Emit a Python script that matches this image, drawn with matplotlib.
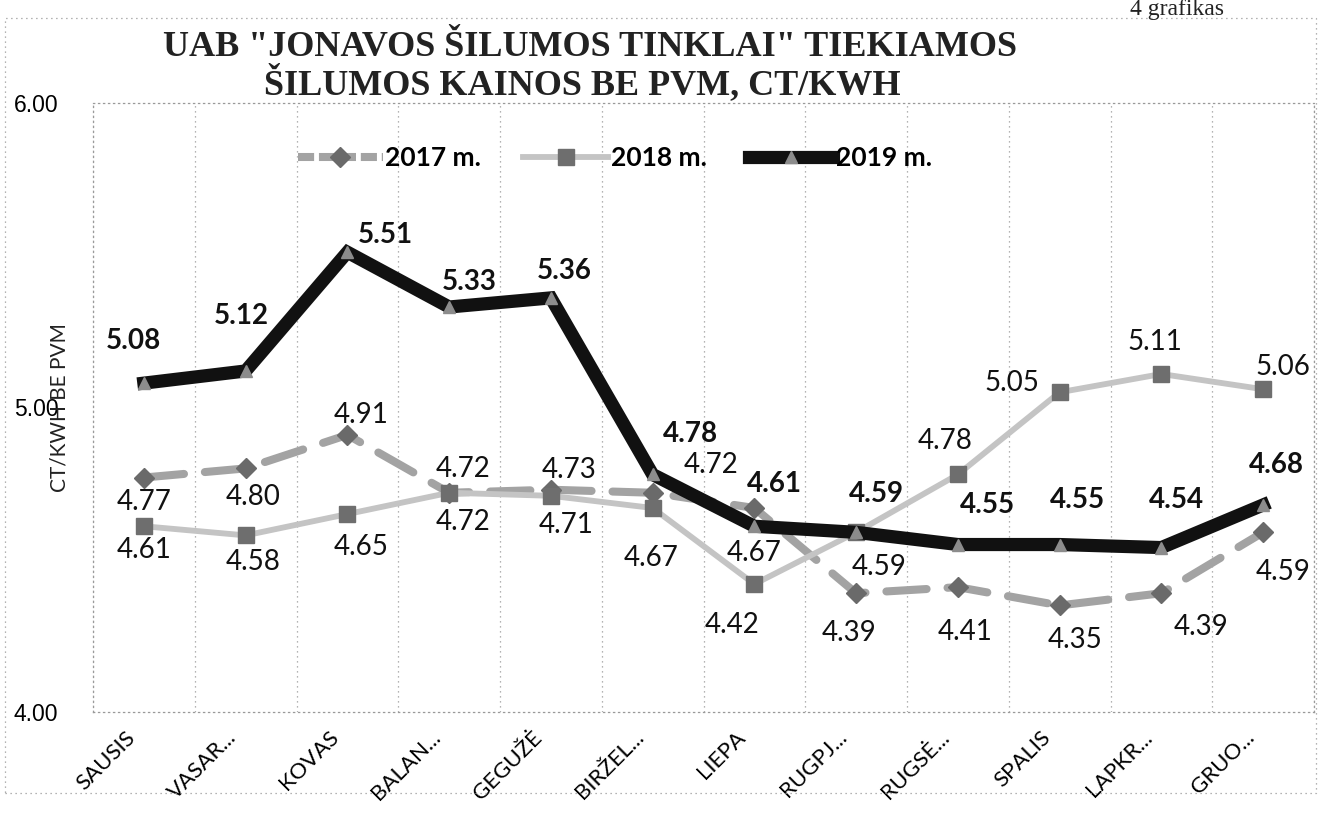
import matplotlib
matplotlib.use("Agg")
import matplotlib.pyplot as plt
import matplotlib.transforms as mtransforms
from matplotlib.patches import Rectangle
from matplotlib.lines import Line2D
import numpy as np

# ---- data -------------------------------------------------------------
months = ["SAUSIS", "VASAR...", "KOVAS", "BALAN...", "GEGUŽĖ", "BIRŽEL...",
          "LIEPA", "RUGPJ...", "RUGSĖ...", "SPALIS", "LAPKR...", "GRUO..."]
y2017 = [4.77, 4.80, 4.91, 4.72, 4.73, 4.72, 4.67, 4.39, 4.41, 4.35, 4.39, 4.59]
y2018 = [4.61, 4.58, 4.65, 4.72, 4.71, 4.67, 4.42, 4.59, 4.78, 5.05, 5.11, 5.06]
y2019 = [5.08, 5.12, 5.51, 5.33, 5.36, 4.78, 4.61, 4.59, 4.55, 4.55, 4.54, 4.68]
yticks = [4.0, 5.0, 6.0]

# label offsets in pixels (dx right, dy down) – placement as in the source
off2017 = [(0, 24), (8, 29), (14, -20), (14, -24), (18, -20), (58, -28),
           (0, 45), (-7, 40), (7, 45), (15, 35), (40, 34), (20, 40)]
off2018 = [(0, 24), (8, 27), (14, 33), (14, 29), (15, 29), (-2, 50),
           (-22, 41), (23, 35), (-13, -33), (-48, -9), (-6, -32), (20, -22)]
off2019 = [(-10, -42), (-4, -55), (38, -17), (20, -25), (13, -27), (38, -40),
           (20, -42), (20, -38), (30, -40), (18, -45), (15, -48), (13, -40)]

DPI = 100
fig = plt.figure(figsize=(13.21, 8.26), dpi=DPI)
W, H = 1321, 826
ax = fig.add_axes([93 / W, 1 - 712 / H, (1314 - 93) / W, (712 - 103) / H])

x = np.arange(len(months))
px2pt = 72 / DPI

ax.plot(x, y2017, color="#a3a3a3", lw=5.8, dashes=(5, 2.6), dash_capstyle="round",
        marker="D", ms=10, mfc="#6a6a6a", mec="#6a6a6a", zorder=3, label="2017 m.")
ax.plot(x, y2018, color="#c4c4c4", lw=4.2, solid_capstyle="round",
        marker="s", ms=12, mfc="#6e6e6e", mec="#6e6e6e", zorder=4, label="2018 m.")
ax.plot(x, y2019, color="#111111", lw=9.5, solid_joinstyle="miter",
        marker="^", ms=9, mfc="#8c8c8c", mec="#8c8c8c", zorder=5, label="2019 m.")

lab_font = "Lato"
for vals, offs, weight in ((y2017, off2017, "normal"), (y2018, off2018, "normal"),
                           (y2019, off2019, "bold")):
    for i, (v, (dx, dy)) in enumerate(zip(vals, offs)):
        ax.annotate(f"{v:.2f}", (x[i], v), xytext=(dx * px2pt, -dy * px2pt),
                    textcoords="offset points", ha="center", va="center",
                    fontsize=20, fontweight=weight, family=lab_font,
                    color="#111111", zorder=6)

ax.set_xlim(-0.5, len(months) - 0.5)
ax.set_ylim(4.0, 6.0)
ax.set_yticks(yticks)
ax.set_yticklabels([f"{t:.2f}" for t in yticks], fontsize=16.5, family="Liberation Sans")
ax.tick_params(axis="y", length=0, pad=25)
ax.set_xticks(x)
ax.set_xticklabels(months, rotation=45, ha="right", va="center", rotation_mode="anchor",
                   fontsize=16, family="Lato")
ax.tick_params(axis="x", length=0, pad=16)
shift = mtransforms.ScaledTranslation(-12 / DPI, 0, fig.dpi_scale_trans)
for lbl in ax.get_xticklabels():
    lbl.set_transform(lbl.get_transform() + shift)

# category boundary gridlines
ax.set_xticks(np.arange(-0.5, len(months), 1.0), minor=True)
ax.tick_params(axis="x", which="minor", length=0)
ax.grid(True, axis="x", which="minor", color="#9a9a9a", linestyle=(0, (1, 3)), lw=0.9)
for s in ax.spines.values():
    s.set_linestyle((0, (1, 3)))
    s.set_color("#9a9a9a")
    s.set_linewidth(0.9)

fig.text(60 / W, 1 - 408 / H, "CT/KWH BE PVM", rotation=90, ha="center", va="center",
         fontsize=15, family="Lato", color="#222222")

# title
fig.text(590 / W, 1 - 47 / H, 'UAB "JONAVOS ŠILUMOS TINKLAI" TIEKIAMOS',
         ha="center", va="center", fontsize=26, fontweight="bold",
         family="Liberation Serif", color="#222222")
fig.text(582 / W, 1 - 83 / H, "ŠILUMOS KAINOS BE PVM, CT/KWH",
         ha="center", va="center", fontsize=26, fontweight="bold",
         family="Liberation Serif", color="#222222")
fig.text(1130 / W, 1 - 15 / H, "4 grafikas", ha="left", va="baseline",
         fontsize=17, family="Liberation Serif", color="#222222")

# legend
handles = [
    Line2D([], [], color="#a3a3a3", lw=5.8, dashes=(2, 0.6), marker="D", ms=10,
           mfc="#6a6a6a", mec="#6a6a6a"),
    Line2D([], [], color="#c4c4c4", lw=4.2, marker="s", ms=12, mfc="#6e6e6e", mec="#6e6e6e"),
    Line2D([], [], color="#111111", lw=9.5, marker="^", ms=9, mfc="#8c8c8c", mec="#8c8c8c"),
]
fig.legend(handles, ["2017 m.", "2018 m.", "2019 m."], loc="center",
           bbox_to_anchor=(615 / W, 1 - 158 / H), ncol=3, frameon=False,
           prop={"family": "Lato", "weight": "bold", "size": 19},
           handlelength=3.2, handletextpad=0.1, columnspacing=1.6)

# dotted outer frame
fig.patches.append(Rectangle((5 / W, 1 - 793 / H), (1316 - 5) / W, (793 - 18) / H,
                             transform=fig.transFigure, fill=False, ec="#9a9a9a",
                             lw=0.9, ls=(0, (1, 3))))

fig.savefig("out.png", dpi=DPI)
